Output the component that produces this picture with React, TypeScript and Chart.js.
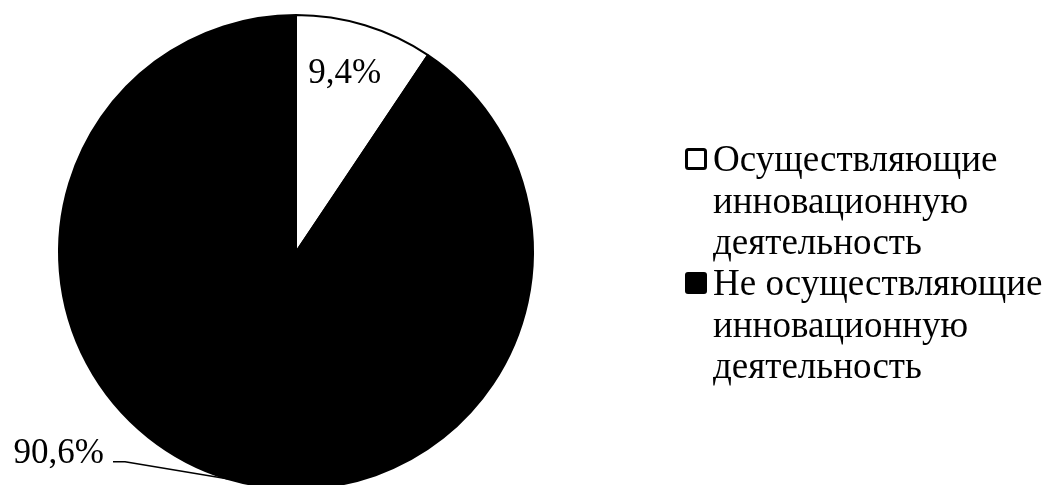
import React, { useEffect, useRef } from "react";
import { Chart, registerables } from "chart.js";

Chart.register(...registerables);

const categories = [
  "Осуществляющие инновационную деятельность",
  "Не осуществляющие инновационную деятельность",
];
const legendLines = [
  ["Осуществляющие", "инновационную", "деятельность"],
  ["Не осуществляющие", "инновационную", "деятельность"],
];
const shares = [9.4, 90.6];
const sliceColors = ["#ffffff", "#000000"];

const FONT = '"Liberation Serif", "Times New Roman", serif';

const fmt = (v: number) => v.toFixed(1).replace(".", ",") + "%";

const overlayPlugin = {
  id: "overlay",
  afterDraw(chart: any) {
    const ctx = chart.ctx;
    const meta = chart.getDatasetMeta(0);
    const data = chart.data.datasets[0].data as number[];
    ctx.save();
    ctx.fillStyle = "#000";
    ctx.font = `35px ${FONT}`;
    meta.data.forEach((arc: any, i: number) => {
      const { x, y, startAngle, endAngle, outerRadius } = arc.getProps(
        ["x", "y", "startAngle", "endAngle", "outerRadius"],
        true
      );
      const mid = (startAngle + endAngle) / 2;
      const text = fmt(data[i]);
      if (i === 0) {
        const r = outerRadius * 0.78;
        ctx.textAlign = "center";
        ctx.textBaseline = "middle";
        ctx.fillText(text, x + Math.cos(mid) * r - 5, y + Math.sin(mid) * r - 1);
      } else {
        const ex = x + Math.cos(mid) * outerRadius;
        const ey = y + Math.sin(mid) * outerRadius;
        const elbowX = ex - 102;
        const elbowY = ey - 17;
        const endX = elbowX - 12;
        ctx.strokeStyle = "#000";
        ctx.lineWidth = 1.5;
        ctx.beginPath();
        ctx.moveTo(ex, ey);
        ctx.lineTo(elbowX, elbowY);
        ctx.lineTo(endX, elbowY);
        ctx.stroke();
        ctx.textAlign = "right";
        ctx.textBaseline = "alphabetic";
        ctx.fillText(text, endX - 9, elbowY + 1);
      }
    });

    // legend
    const lx = 685;
    const tx = 713;
    const lineH = 41.5;
    const firstBaselines = [171, 295];
    ctx.font = `37px ${FONT}`;
    ctx.textAlign = "left";
    ctx.textBaseline = "alphabetic";
    legendLines.forEach((lines, i) => {
      const b = firstBaselines[i];
      const size = 22;
      const top = b - 12 - size / 2;
      ctx.beginPath();
      if (i === 0) {
        ctx.fillStyle = sliceColors[0];
        ctx.strokeStyle = "#000";
        ctx.lineWidth = 3;
        ctx.roundRect(lx + 1.5, top + 1.5, size - 3, size - 3, 2);
        ctx.fill();
        ctx.stroke();
      } else {
        ctx.fillStyle = sliceColors[1];
        ctx.roundRect(lx, top, size, size, 3);
        ctx.fill();
      }
      ctx.fillStyle = "#000";
      lines.forEach((ln, j) => {
        ctx.fillText(ln, tx, b + j * lineH);
      });
    });
    ctx.restore();
  },
};

export default function App() {
  const ref = useRef<HTMLCanvasElement | null>(null);
  useEffect(() => {
    document.body.style.margin = "0";
    const canvas = ref.current;
    if (!canvas) return;
    const chart = new Chart(canvas, {
      type: "pie",
      data: {
        labels: categories,
        datasets: [
          {
            data: shares,
            backgroundColor: sliceColors,
            borderColor: "#000000",
            borderWidth: 2,
          },
        ],
      },
      options: {
        responsive: false,
        animation: false,
        layout: { padding: { left: 58, top: 14, right: 517, bottom: 10 } },
        plugins: {
          legend: { display: false },
          tooltip: { enabled: false },
        },
      },
      plugins: [overlayPlugin],
    });
    return () => chart.destroy();
  }, []);
  return (
    <div
      style={{
        width: 1051,
        height: 485,
        overflow: "hidden",
        background: "#fff",
        position: "relative",
      }}
    >
      <canvas ref={ref} width={1051} height={500} style={{ width: 1051, height: 500, display: "block" }} />
    </div>
  );
}
